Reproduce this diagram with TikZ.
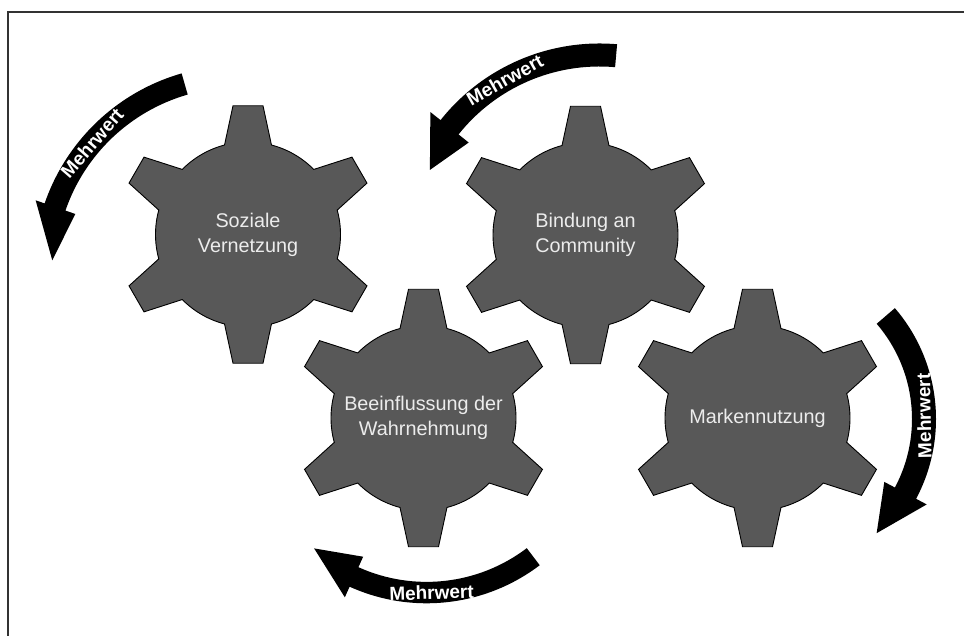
\documentclass[tikz,border=0pt]{standalone}
\usepackage{fontspec}
\setmainfont{Liberation Sans}
\usetikzlibrary{calc}

\definecolor{gearfill}{RGB}{88,88,88}
\definecolor{geartext}{RGB}{236,236,236}
\definecolor{framegray}{RGB}{50,50,50}

\tikzset{
  gear/.style={fill=gearfill, draw=black, line width=0.9pt, line join=miter},
  gearlabel/.style={text=geartext, align=center, inner sep=0pt,
    font=\fontsize{19.8}{25}\selectfont},
  valuearrow/.style={fill=black},
  arrowlabel/.style={text=white, inner sep=0pt,
    font=\bfseries\fontsize{19}{22}\selectfont},
}

% six-tooth gear around a named centre
\newcommand\gearat[1]{%
  \filldraw[gear] ($(#1)+(75.3:92.5)$)
    \foreach \ang in {90,150,...,420} {
      -- ($(#1)+(\ang-6.65:129.6)$) -- ($(#1)+(\ang+6.65:129.6)$)
      -- ($(#1)+(\ang+14.7:92.5)$)
      arc[start angle=\ang+14.7, end angle=\ang+45.3, radius=92.5]
    } -- cycle;}

% curved band arrow: #1 centre, #2 tail angle, #3 head-base angle,
% #4/#5 inner/outer band radius, #6/#7 inner/outer head radius,
% #8 tip angle, #9 tip radius
\newcommand\bandarrow[9]{%
  \fill[valuearrow] ($(#1)+(#2:#5)$)
    arc[start angle=#2, end angle=#3, radius=#5]
    -- ($(#1)+(#3:#7)$) -- ($(#1)+(#8:#9)$) -- ($(#1)+(#3:#6)$)
    -- ($(#1)+(#3:#4)$)
    arc[start angle=#3, end angle=#2, radius=#4] -- cycle;}

\begin{document}
\begin{tikzpicture}[x=1pt, y=1pt]
  \useasboundingbox (0,0) rectangle (964,636);

  % outer frame (open to the right and bottom)
  \draw[framegray, line width=1.3pt] (8,-10) -- (8,624) -- (980,624);

  % gear centres
  \coordinate (g1) at (248,401.5);
  \coordinate (g2) at (585.5,401);
  \coordinate (g3) at (423.5,218);
  \coordinate (g4) at (757.5,218);

  \gearat{g1}
  \gearat{g2}
  \gearat{g3}
  \gearat{g4}

  \node[gearlabel] (soz) at (g1) {Soziale\\Vernetzung};
  \node[gearlabel] (bind) at (g2) {Bindung an\\Community};
  \node[gearlabel] (bee) at (g3) {Beeinflussung der\\Wahrnehmung};
  \node[gearlabel] (mark) at (g4) {Markennutzung};

  % arrow centres
  \coordinate (a1) at (238,366);
  \coordinate (a2) at (599.4,389.5);
  \coordinate (a3) at (766,217);
  \coordinate (a4) at (426.6,219.8);

  \bandarrow{a1}{106}{161}{182.5}{204.5}{172}{214}{177}{186}
  \bandarrow{a2}{85}{141.5}{180}{203}{167}{216}{155.7}{186}
  \bandarrow{a3}{40.7}{-28}{146}{170}{134}{182}{-45.9}{159}
  \bandarrow{a4}{-52.8}{-114.3}{165.7}{187.1}{154.2}{198.7}{-130.4}{173.6}

  \node[arrowlabel, rotate=49] (m1) at ($(a1)+(139:193.5)$) {Mehrwert};
  \node[arrowlabel, rotate=29.6] (m2) at ($(a2)+(119.6:191.5)$) {Mehrwert};
  \node[arrowlabel, rotate=91] (m3) at ($(a3)+(1.1:158)$) {Mehrwert};
  \node[arrowlabel, rotate=1.6] (m4) at ($(a4)+(-88.4:176.4)$) {Mehrwert};
\end{tikzpicture}
\end{document}
